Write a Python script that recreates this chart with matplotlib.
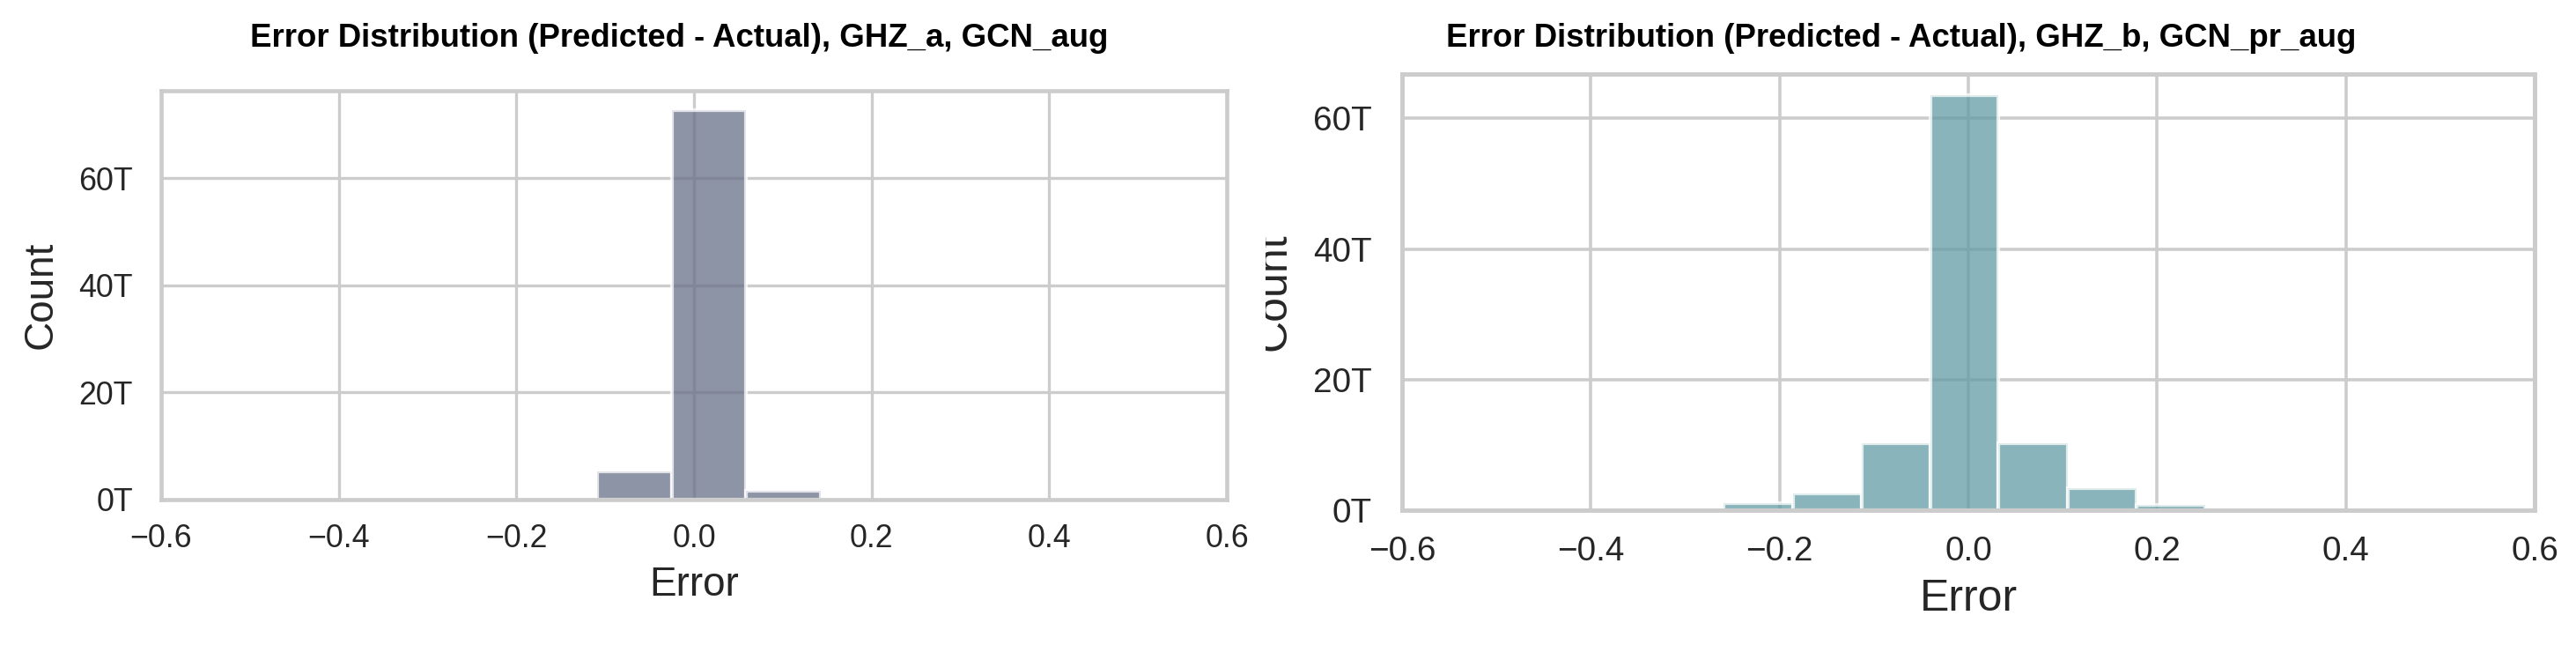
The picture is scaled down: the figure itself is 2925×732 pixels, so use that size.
import matplotlib.pyplot as plt
import numpy as np
from matplotlib.ticker import FuncFormatter, MultipleLocator
from matplotlib.transforms import Bbox, TransformedBbox

plt.rcParams['font.family'] = ['Liberation Sans', 'DejaVu Sans']

# bin edges and counts
edges_a = [-0.194, -0.109, -0.025, 0.059, 0.143]
counts_a = [400, 5200, 72700, 1700]

edges_b = [-0.332, -0.259, -0.186, -0.113, -0.040, 0.032, 0.105, 0.178, 0.251]
counts_b = [300, 1100, 2500, 10300, 63600, 10300, 3400, 800]

title_a = 'Error Distribution (Predicted - Actual), GHZ_a, GCN_aug'
title_b = 'Error Distribution (Predicted - Actual), GHZ_b, GCN_pr_aug'


def thousands(v, pos):
    return '{:.0f}T'.format(v / 1000)


def draw_hist(ax, edges, counts, color, tick_size, label_size, lw):
    edges = np.asarray(edges)
    ax.set_axisbelow(True)
    ax.grid(True, color='#cccccc', linewidth=0.8 * lw)
    ax.bar(edges[:-1], counts, width=np.diff(edges), align='edge',
           color=color, alpha=0.75, edgecolor='white', linewidth=1.0)

    ax.set_xlim(-0.6, 0.6)
    ax.xaxis.set_major_locator(MultipleLocator(0.2))
    ax.yaxis.set_major_locator(MultipleLocator(20000))
    ax.yaxis.set_major_formatter(FuncFormatter(thousands))
    ax.tick_params(length=0, labelsize=tick_size, colors='#262626')
    ax.tick_params(axis='x', pad=6.5 * lw)
    ax.tick_params(axis='y', pad=7.7 * lw)
    for s in ax.spines.values():
        s.set_color('#cccccc')
        s.set_linewidth(1.1 * lw)

    ax.set_xlabel('Error', fontsize=label_size, color='#262626', labelpad=3)
    ylab = ax.set_ylabel('Count', fontsize=label_size, color='#262626', labelpad=5)
    return ylab


fig = plt.figure(figsize=(9.75, 2.44), dpi=300)
W, H = 2925, 732

ax_a = fig.add_axes([183 / W, (H - 567) / H, 1210 / W, 464 / H])
ax_b = fig.add_axes([1592 / W, (H - 579) / H, 1286 / W, 495 / H])

draw_hist(ax_a, edges_a, counts_a, '#677088', 8.6, 11, 1.0)
ylab_b = draw_hist(ax_b, edges_b, counts_b, '#639ba4', 9.3, 12, 1.08)

# the right panel's y label is cut off where the left panel ends
clip = TransformedBbox(Bbox.from_extents(1437 / W, 0, 1, 1), fig.transFigure)
ylab_b.set_clip_box(clip)
ylab_b.set_clip_on(True)

fig.text(284 / W, 1 - 53 / H, title_a, fontsize=8.8, fontweight='bold',
         ha='left', va='baseline', color='black')
fig.text(1642 / W, 1 - 53 / H, title_b, fontsize=8.8, fontweight='bold',
         ha='left', va='baseline', color='black')

fig.savefig('out.png', dpi=300)
